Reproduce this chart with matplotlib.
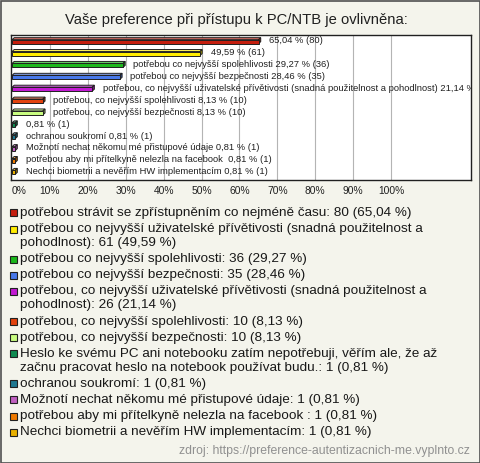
import textwrap
import matplotlib
matplotlib.use("Agg")
import matplotlib.pyplot as plt
from matplotlib.patches import Polygon, Rectangle
from matplotlib.colors import to_rgb

plt.rcParams['font.family'] = ['Liberation Sans', 'DejaVu Sans']

title = 'Vaše preference při přístupu k PC/NTB je ovlivněna:'
source = 'zdroj: https://preference-autentizacnich-me.vyplnto.cz'

answers = [
    'potřebou strávit se zpřístupněním co nejméně času',
    'potřebou co nejvyšší uživatelské přívětivosti (snadná použitelnost a pohodlnost)',
    'potřebou co nejvyšší spolehlivosti',
    'potřebou co nejvyšší bezpečnosti',
    'potřebou, co nejvyšší uživatelské přívětivosti (snadná použitelnost a pohodlnost)',
    'potřebou, co nejvyšší spolehlivosti',
    'potřebou, co nejvyšší bezpečnosti',
    'Heslo ke svému PC ani notebooku zatím nepotřebuji, věřím ale, že až začnu pracovat heslo na notebook používat budu.',
    'ochranou soukromí',
    'Možnotí nechat někomu mé přistupové údaje',
    'potřebou aby mi přítelkyně nelezla na facebook ',
    'Nechci biometrii a nevěřím HW implementacím',
]
counts = [80, 61, 36, 35, 26, 10, 10, 1, 1, 1, 1, 1]
percents = [65.04, 49.59, 29.27, 28.46, 21.14, 8.13, 8.13, 0.81, 0.81, 0.81, 0.81, 0.81]
# the chart only writes the answer next to some of the bars
show_name = [False, False, True, True, True, True, True, False, True, True, True, True]
colors = ['#c41e0e', '#ffec00', '#1cb81c', '#4878ea', '#c21ad2', '#e2420e',
          '#c8fc80', '#0f8a50', '#1f7890', '#c060c0', '#f07a00', '#e8b000']
xticks = [0, 10, 20, 30, 40, 50, 60, 70, 80, 90, 100]

BG = '#f4f4ec'
W, H = 480, 463


def czk(p):
    return f'{p:.2f}'.replace('.', ',') + ' %'


def shade(c, f):
    r, g, b = to_rgb(c)
    if f > 0:
        return (r + (1 - r) * f, g + (1 - g) * f, b + (1 - b) * f)
    return (r * (1 + f), g * (1 + f), b * (1 + f))


fig = plt.figure(figsize=(W / 100, H / 100), dpi=100, facecolor=BG)

# plot area in pixels: x 11..471, y 35..180
ax = fig.add_axes([11 / W, 1 - 180 / H, 460 / W, 145 / H])
ax.set_facecolor('white')
ax.set_xlim(-0.27, 121.1)
ax.set_ylim(11.7, -0.5)
for s in ax.spines.values():
    s.set_color('#202020')
    s.set_linewidth(1)

for x in xticks[1:]:
    ax.axvline(x, color='#b4b4b4', lw=0.8, zorder=0)

px_x = 1 / 3.79
px_y = 1 / 11.9
h = 4 * px_y
dx, dy = 2.2 * px_x, 2 * px_y

for i, (p, c) in enumerate(zip(percents, colors)):
    y0 = i - h / 2 + 0.06
    ax.add_patch(Polygon([(0, y0), (p, y0), (p + dx, y0 - dy), (dx, y0 - dy)],
                         closed=True, facecolor=shade(c, 0.35), edgecolor='#202020', lw=0.7, zorder=3))
    ax.add_patch(Polygon([(p, y0), (p + dx, y0 - dy), (p + dx, y0 - dy + h), (p, y0 + h)],
                         closed=True, facecolor=shade(c, -0.35), edgecolor='#202020', lw=0.7, zorder=3))
    ax.barh(i + 0.06, p, height=h, left=0, color=c, edgecolor='#202020', lw=0.7, zorder=4)
    label = (answers[i] + ' ' if show_name[i] else '') + czk(p) + f' ({counts[i]})'
    ax.annotate(label, (p + dx, i), xytext=(6, 0), textcoords='offset points',
                ha='left', va='center', fontsize=6.75, color='#202020',
                annotation_clip=False, clip_on=True, zorder=5)

ax.set_yticks([])
ax.set_xticks(xticks)
ax.set_xticklabels([f'{x}%' for x in xticks], fontsize=7.4, color='#202020')
ax.tick_params(axis='x', length=0, pad=4)
ax.get_xticklabels()[0].set_ha('left')

fig.text(236 / W, 1 - 20 / H, title, ha='center', va='center', fontsize=10.6, color='#202020')

# legend below the plot
y = 213
for i, (name, n, p, c) in enumerate(zip(answers, counts, percents, colors)):
    lines = textwrap.wrap(f'{name}: {n} ({czk(p)})', width=70)
    fig.patches.append(Rectangle((10 / W, 1 - (y + 3.5) / H), 7 / W, 7 / H,
                                 transform=fig.transFigure, facecolor=c,
                                 edgecolor='#202020', lw=0.8))
    for j, line in enumerate(lines):
        fig.text(20 / W, 1 - y / H, line, ha='left', va='center',
                 fontsize=9.7, color='#181818')
        if j < len(lines) - 1:
            y += 14
    y += 16.1

fig.text(470 / W, 1 - 451 / H, source, ha='right', va='center', fontsize=8.8, color='#909090')

fig.patches.append(Rectangle((0.5 / W, 0.5 / H), 1 - 1 / W, 1 - 1 / H,
                             transform=fig.transFigure, fill=False,
                             edgecolor='#505050', lw=1.2))

fig.savefig('out.png', dpi=100, facecolor=BG)
